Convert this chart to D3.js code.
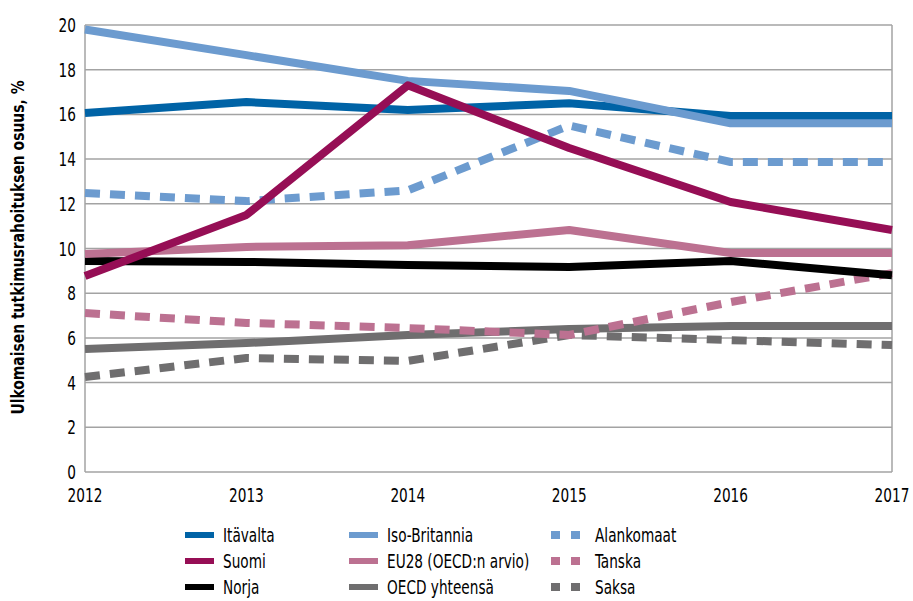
<!DOCTYPE html>
<html>
<head>
<meta charset="utf-8">
<script src="https://cdn.jsdelivr.net/npm/d3@7"></script>
<style>
  body { margin: 0; background: #fff; }
  svg text { font-family: "DejaVu Sans Condensed", "Liberation Sans", sans-serif; fill: #000; }
</style>
</head>
<body>
<svg id="chart" width="913" height="601"></svg>
<script>
// Foreign research funding share, % (2012-2017)
const years = [2012, 2013, 2014, 2015, 2016, 2017];
const yTicks = [0, 2, 4, 6, 8, 10, 12, 14, 16, 18, 20];

const itavalta     = [16.06, 16.55, 16.2, 16.5, 15.93, 15.93];
const isoBritannia = [19.8, 18.65, 17.5, 17.05, 15.6, 15.6];
const alankomaat   = [12.48, 12.12, 12.6, 15.5, 13.87, 13.87];
const suomi        = [8.77, 11.5, 17.3, 14.5, 12.08, 10.83];
const eu28         = [9.75, 10.07, 10.15, 10.83, 9.8, 9.8];
const tanska       = [7.11, 6.67, 6.44, 6.13, 7.6, 8.9];
const norja        = [9.44, 9.4, 9.26, 9.17, 9.44, 8.8];
const oecd         = [5.5, 5.77, 6.13, 6.4, 6.53, 6.53];
const saksa        = [4.25, 5.1, 4.97, 6.13, 5.9, 5.68];

// draw order (bottom to top) and legend slots
const series = [
    { name: 'Saksa', values: saksa, color: '#6f6e6f', dashed: true, col: 2, row: 2 },
    { name: 'OECD yhteensä', values: oecd, color: '#6f6e6f', dashed: false, col: 1, row: 2 },
    { name: 'Tanska', values: tanska, color: '#bc7191', dashed: true, col: 2, row: 1 },
    { name: 'Norja', values: norja, color: '#000000', dashed: false, col: 0, row: 2 },
    { name: 'EU28 (OECD:n arvio)', values: eu28, color: '#bc7191', dashed: false, col: 1, row: 1 },
    { name: 'Alankomaat', values: alankomaat, color: '#6c9bcf', dashed: true, col: 2, row: 0 },
    { name: 'Itävalta', values: itavalta, color: '#0063a6', dashed: false, col: 0, row: 0 },
    { name: 'Iso-Britannia', values: isoBritannia, color: '#6c9bcf', dashed: false, col: 1, row: 0 },
    { name: 'Suomi', values: suomi, color: '#960e55', dashed: false, col: 0, row: 1 }
];

const svg = d3.select('#chart');
const margin = { left: 85, right: 21, top: 25, bottom: 129 };
const width = 913, height = 601;
const squeeze = 0.76;   // mimic the condensed face of the original

const x = d3.scaleLinear().domain([2012, 2017]).range([margin.left, width - margin.right]);
const y = d3.scaleLinear().domain([0, 20]).range([height - margin.bottom, margin.top]);

// condensed text helper
function label(parent, tx, ty, str, anchor, size) {
    return parent.append('text')
        .attr('transform', `translate(${tx},${ty}) scale(${squeeze},1)`)
        .attr('dy', '0.35em')
        .attr('text-anchor', anchor)
        .attr('font-size', size)
        .text(str);
}

// Gridlines
svg.append('g')
    .selectAll('line')
    .data(yTicks)
    .enter()
    .append('line')
    .attr('x1', x(2012))
    .attr('x2', x(2017))
    .attr('y1', d => y(d))
    .attr('y2', d => y(d))
    .attr('stroke', '#a3a3a3')
    .attr('stroke-width', 1.5);

// Frame sides
[2012, 2017].forEach(yr => {
    svg.append('line')
        .attr('x1', x(yr)).attr('x2', x(yr))
        .attr('y1', y(20)).attr('y2', y(0))
        .attr('stroke', '#a3a3a3').attr('stroke-width', 1.5);
});

// Y tick labels
const yLab = svg.append('g');
yTicks.forEach(t => label(yLab, 76, y(t), t, 'end', '20px'));

// X tick labels
const xLab = svg.append('g');
years.forEach(yr => label(xLab, x(yr), 495, yr, 'middle', '20px'));

// Y axis title
svg.append('text')
    .attr('transform', `translate(24, ${y(10) - 1}) rotate(-90) scale(0.86,1)`)
    .attr('text-anchor', 'middle')
    .attr('font-size', '18px')
    .attr('font-weight', 'bold')
    .text('Ulkomaisen tutkimusrahoituksen osuus, %');

// Lines
const line = d3.line()
    .x((d, i) => x(years[i]))
    .y(d => y(d));

svg.append('g')
    .selectAll('path')
    .data(series)
    .enter()
    .append('path')
    .attr('d', d => line(d.values))
    .attr('fill', 'none')
    .attr('stroke', d => d.color)
    .attr('stroke-width', 8)
    .attr('stroke-linejoin', 'round')
    .attr('stroke-dasharray', d => d.dashed ? '15,10' : null);

// Legend
const colX = [185, 349, 551];
const rowY = [535, 561, 587];
const legend = svg.append('g');

series.forEach(s => {
    const lx = colX[s.col], ly = rowY[s.row];
    if (s.dashed) {
        legend.append('line')
            .attr('x1', lx).attr('x2', lx + 30)
            .attr('y1', ly).attr('y2', ly)
            .attr('stroke', s.color).attr('stroke-width', 8)
            .attr('stroke-dasharray', '9,11');
    } else {
        legend.append('line')
            .attr('x1', lx).attr('x2', lx + 29)
            .attr('y1', ly).attr('y2', ly)
            .attr('stroke', s.color).attr('stroke-width', 6);
    }
    label(legend, s.dashed ? lx + 44 : lx + 38, ly, s.name, 'start', '20px');
});
</script>
</body>
</html>
